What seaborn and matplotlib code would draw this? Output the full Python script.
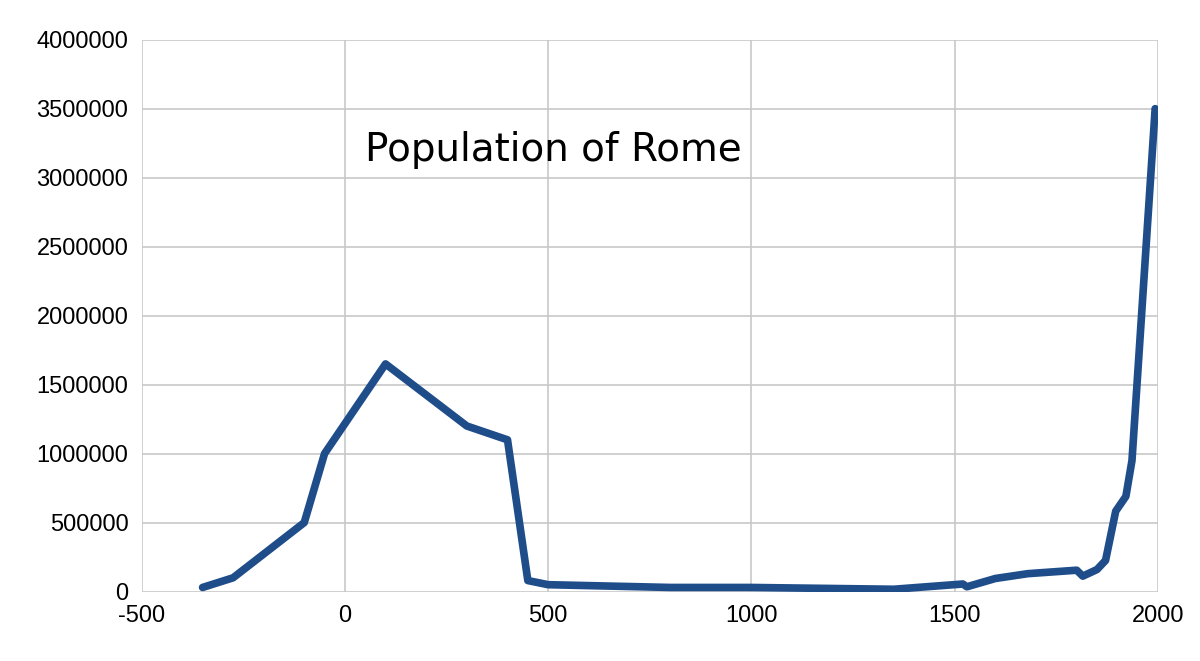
import matplotlib
matplotlib.use("Agg")
import matplotlib.pyplot as plt
import seaborn as sns
import pandas as pd

years = [-350, -275, -100, -50, 100, 300, 400, 450, 500, 800, 1000, 1350, 1520, 1530,
         1600, 1680, 1800, 1815, 1850, 1871, 1896, 1921, 1936, 1993]
population = [30000, 100000, 500000, 1000000, 1650000, 1200000, 1100000, 80000, 50000,
              30000, 30000, 17000, 55000, 35000, 95000, 130000, 155000, 112000, 160000,
              226000, 583000, 690000, 950000, 3500000]

df = pd.DataFrame({"year": years, "population": population})
sns.set_theme(style="whitegrid")
plt.rcParams['font.family'] = ['Liberation Sans', 'DejaVu Sans']
plt.rcParams['axes.unicode_minus'] = False
fig, ax = plt.subplots(figsize=(12, 6.61), dpi=100)
sns.lineplot(data=df, x="year", y="population", ax=ax, color="#1e4d8a", linewidth=5.5)
ax.set_xlim(-500, 2000)
ax.set_ylim(0, 4000000)
ax.set_xticks(range(-500, 2001, 500))
ax.set_yticks(range(0, 4000001, 500000))
ax.set_yticklabels([str(v) for v in range(0, 4000001, 500000)])
ax.tick_params(labelsize=17, colors="black")
ax.set_xlabel("")
ax.set_ylabel("")
for s in ax.spines.values():
    s.set_visible(False)
ax.grid(color="#c8c8c8", linewidth=1.2)
ax.text(0.22, 0.80, "Population of Rome", transform=ax.transAxes, fontsize=28,
        family=['DejaVu Sans'], color="black", va="center")
fig.subplots_adjust(left=0.118, right=0.965, top=0.94, bottom=0.105)
fig.savefig("out.png", dpi=100)
